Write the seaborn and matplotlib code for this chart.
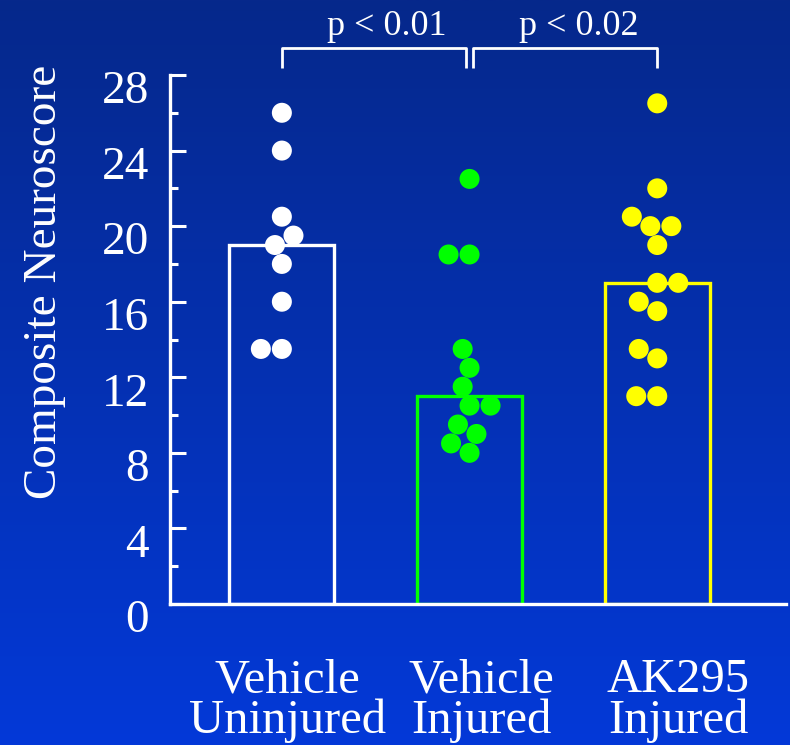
import numpy as np
import pandas as pd
import matplotlib
matplotlib.use("Agg")
import matplotlib.pyplot as plt
import seaborn as sns
from matplotlib.colors import LinearSegmentedColormap
from matplotlib.ticker import MultipleLocator
from matplotlib.transforms import ScaledTranslation

# Groups and individual composite neuroscores
groups = ["Vehicle\nUninjured", "Vehicle\nInjured", "AK295\nInjured"]
vehicle_uninjured = [26, 24, 20.5, 19.5, 19, 18, 16, 13.5, 13.5]
vehicle_injured = [22.5, 18.5, 18.5, 13.5, 12.5, 11.5, 10.5, 10.5, 9.5, 9, 8.5, 8]
ak295_injured = [26.5, 22, 20.5, 20, 20, 19, 17, 17, 16, 15.5, 13.5, 13, 11, 11]
group_colors = ["#ffffff", "#00ff00", "#ffff00"]
y_ticks = [0, 4, 8, 12, 16, 20, 24, 28]
comparisons = [(0, 1, "p < 0.01"), (1, 2, "p < 0.02")]

df = pd.DataFrame({
    "group": [groups[0]] * len(vehicle_uninjured)
    + [groups[1]] * len(vehicle_injured)
    + [groups[2]] * len(ak295_injured),
    "score": vehicle_uninjured + vehicle_injured + ak295_injured,
})

sns.set_theme(style="ticks")
plt.rcParams["font.family"] = ["Liberation Serif", "DejaVu Serif"]

fig = plt.figure(figsize=(7.9, 7.45), dpi=100)

# Slide-style vertical blue gradient behind everything
bg = fig.add_axes([0, 0, 1, 1])
grad_cmap = LinearSegmentedColormap.from_list("slide", ["#06288b", "#0339d8"])
bg.imshow(np.linspace(0, 1, 256).reshape(-1, 1), aspect="auto", cmap=grad_cmap,
          extent=[0, 1, 0, 1])
bg.set_axis_off()

ax = fig.add_axes([170 / 790, 141 / 745, 616 / 790, 529 / 745])
ax.set_zorder(1)
ax.patch.set_alpha(0)

# Median bars as open outlines, individual animals on top
sns.barplot(data=df, x="group", y="score", hue="group", order=groups,
            hue_order=groups, palette=group_colors, estimator="median",
            errorbar=None, fill=False, linewidth=2.4, width=0.56,
            legend=False, ax=ax)
sns.swarmplot(data=df, x="group", y="score", hue="group", order=groups,
              hue_order=groups, palette=group_colors, size=14.4, linewidth=0,
              legend=False, ax=ax, zorder=3)

ax.set_xlim(-0.596, 2.686)
ax.set_ylim(0, 28)
ax.set_xlabel("")
ax.set_ylabel("")

for side in ("top", "right"):
    ax.spines[side].set_visible(False)
for side in ("left", "bottom"):
    ax.spines[side].set_color("white")
    ax.spines[side].set_linewidth(2.4)

ax.set_yticks(y_ticks)
ax.set_yticklabels([str(t) for t in y_ticks])
ax.yaxis.set_minor_locator(MultipleLocator(2))
ax.tick_params(axis="y", which="major", direction="in", length=11.5, width=2.2,
               colors="white", labelsize=34, pad=15)
ax.tick_params(axis="y", which="minor", direction="in", length=6, width=2.2,
               colors="white")
ax.tick_params(axis="x", length=0, pad=39, labelsize=35, colors="white")

# Tick labels sit a little below their ticks on the y axis
down = ScaledTranslation(0, -12 / 100, fig.dpi_scale_trans)
for lbl in ax.get_yticklabels():
    lbl.set_transform(lbl.get_transform() + down)

# Group captions are spread slightly wider than the bars
label_nudge_px = [6, 12, 21]
for lbl, dx in zip(ax.get_xticklabels(), label_nudge_px):
    lbl.set_linespacing(0.88)
    lbl.set_transform(lbl.get_transform()
                      + ScaledTranslation(dx / 100, 0, fig.dpi_scale_trans))

# Significance brackets
bracket_y, drop_y, gap = 29.43, 28.36, 0.02
for a, b, label in comparisons:
    x0 = a + (gap if a > 0 else 0)
    x1 = b - (gap if b < 2 else 0)
    ax.plot([x0, x0, x1, x1], [drop_y, bracket_y, bracket_y, drop_y],
            color="white", lw=2.0, clip_on=False, solid_capstyle="butt")
    ax.text((x0 + x1) / 2 + 0.07, 30.1, label, ha="center", va="baseline",
            fontsize=26, color="white", clip_on=False)

fig.text(45 / 790, 1 - 282 / 745, "Composite Neuroscore", rotation=90,
         ha="center", va="center", fontsize=34, color="white")

fig.savefig("out.png", dpi=100)
